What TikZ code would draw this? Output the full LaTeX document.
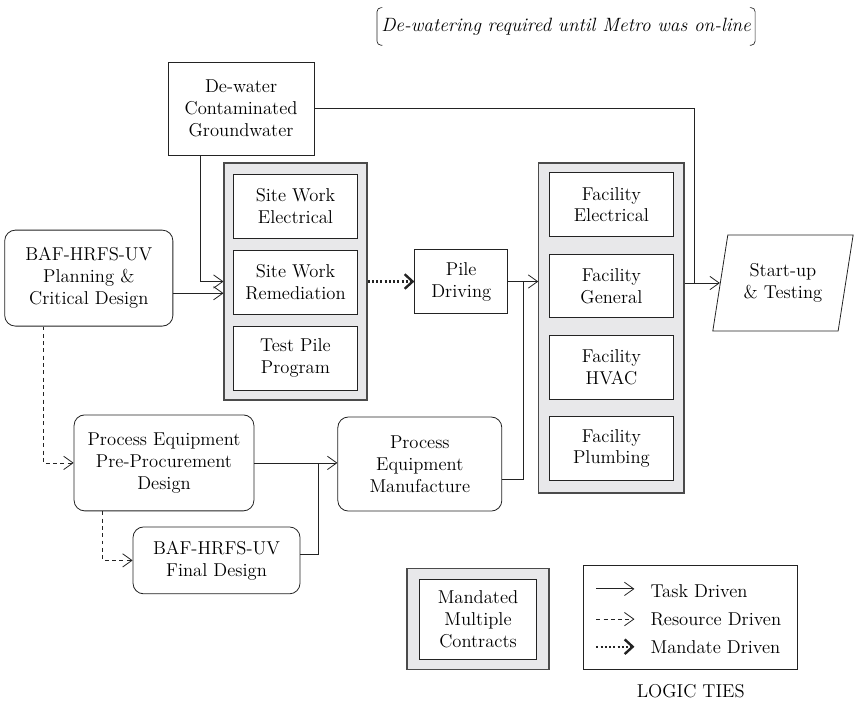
\documentclass[tikz,border=0pt]{standalone}
\usepackage{xcolor}
\usepackage{tikz}
\usetikzlibrary{shapes.geometric, arrows.meta, positioning, calc}
\definecolor{mydark}{RGB}{35,35,35}
\definecolor{mygray}{RGB}{75,75,75}
\definecolor{hdrgray}{RGB}{232,232,234}
\tikzset{
  task/.style={rectangle, draw=mydark, fill=white, align=center,
    font=\fontsize{14}{16.5}\selectfont, line width=0.6pt, inner sep=2pt},
  roundtask/.style={task, rounded corners=8pt},
  subtask/.style={task, minimum width=3.3cm, minimum height=1.69cm},
  contract/.style={rectangle, draw=mygray, fill=hdrgray, line width=0.9pt},
  startbox/.style={trapezium, trapezium left angle=76, trapezium right angle=104,
    trapezium stretches=true, draw=mydark, fill=white, align=center,
    font=\fontsize{14}{16.5}\selectfont, line width=0.6pt,
    minimum width=3.73cm, minimum height=2.54cm},
  legtext/.style={font=\fontsize{14}{16.5}\selectfont, inner sep=0pt},
  arrow/.style={-{Straight Barb[length=7pt,width=10pt]}, line width=0.6pt, color=mydark},
  resarrow/.style={arrow, dash pattern=on 3pt off 2.5pt},
  mandarrow/.style={-{Straight Barb[length=6pt,width=11pt,line width=1.8pt]},
    line width=1.6pt, dash pattern=on 1.6pt off 1.6pt, color=mydark},
  line/.style={line width=0.6pt, color=mydark},
  bracket/.style={line width=0.5pt, color=mydark, rounded corners=3pt}
}

\begin{document}
\begin{tikzpicture}
  \useasboundingbox (0,0) rectangle (22.6,-18.6);

  % Note on top
  \node[font=\fontsize{14.5}{16.5}\selectfont\itshape, minimum height=0.98cm,
    inner xsep=3pt] (note) at (14.98,-0.70) {De-watering required until Metro was on-line};
  \draw[bracket] ([xshift=4pt]note.north west) -- (note.north west)
    -- (note.south west) -- ([xshift=4pt]note.south west);
  \draw[bracket] ([xshift=-4pt]note.north east) -- (note.north east)
    -- (note.south east) -- ([xshift=-4pt]note.south east);

  % Row 1: site work and facility contracts
  \node[task, minimum width=3.86cm, minimum height=2.46cm] (dewater) at (6.38,-2.87)
    {De-water\\Contaminated\\Groundwater};
  \node[roundtask, minimum width=4.45cm, minimum height=2.54cm] (planning) at (2.35,-7.36)
    {BAF-HRFS-UV\\Planning \&\\Critical Design};

  \node[contract, minimum width=3.78cm, minimum height=6.27cm] (swbox) at (7.82,-7.45) {};
  \node[subtask, below=0.3cm of swbox.north] (swelec) {Site Work\\Electrical};
  \node[subtask, below=0.3cm of swelec] (swrem) {Site Work\\Remediation};
  \node[subtask, below=0.3cm of swrem] (testpile) {Test Pile\\Program};

  \node[task, minimum width=2.46cm, minimum height=1.69cm, right=1.24cm of swbox] (pile)
    {Pile\\Driving};

  \node[contract, minimum width=3.84cm, minimum height=8.73cm] (facbox) at (16.18,-8.68) {};
  \node[subtask, below=0.26cm of facbox.north] (facelec) {Facility\\Electrical};
  \node[subtask, below=0.44cm of facelec] (facgen) {Facility\\General};
  \node[subtask, below=0.44cm of facgen] (fachvac) {Facility\\HVAC};
  \node[subtask, below=0.44cm of fachvac] (facplumb) {Facility\\Plumbing};

  \node[startbox] (startup) at (20.72,-7.49) {Start-up\\\& Testing};

  % Row 2: process equipment
  \node[roundtask, minimum width=4.76cm, minimum height=2.54cm] (preproc) at (4.34,-12.25)
    {Process Equipment\\Pre-Procurement\\Design};
  \node[roundtask, minimum width=4.34cm, minimum height=2.49cm] (pem) at (11.11,-12.28)
    {Process\\Equipment\\Manufacture};
  \node[roundtask, minimum width=4.42cm, minimum height=1.77cm] (final) at (5.73,-14.83)
    {BAF-HRFS-UV\\Final Design};

  % Legend
  \node[contract, minimum width=3.76cm, minimum height=2.67cm] (mandbox) at (12.65,-16.39) {};
  \node[task, minimum width=3.1cm, minimum height=2.14cm] (mandtext) at (mandbox)
    {Mandated\\Multiple\\Contracts};
  \node[task, minimum width=5.66cm, minimum height=2.75cm] (legend) at (18.28,-16.35) {};
  \node[legtext, anchor=west] (tasklbl) at ([xshift=1.77cm,yshift=-0.69cm]legend.north west) {Task Driven};
  \node[legtext, anchor=west] (reslbl) at ([xshift=1.77cm,yshift=-1.42cm]legend.north west) {Resource Driven};
  \node[legtext, anchor=west] (mandlbl) at ([xshift=1.77cm,yshift=-2.15cm]legend.north west) {Mandate Driven};
  \draw[arrow] ([xshift=-1.43cm,yshift=2pt]tasklbl.west) -- ([xshift=-0.42cm,yshift=2pt]tasklbl.west);
  \draw[resarrow] ([xshift=-1.43cm]reslbl.west) -- ([xshift=-0.42cm]reslbl.west);
  \draw[mandarrow] ([xshift=-1.43cm]mandlbl.west) -- ([xshift=-0.42cm]mandlbl.west);
  \node[font=\fontsize{14}{16}\selectfont, below=0.25cm of legend] (ties) {LOGIC TIES};

  % Joins
  \coordinate (pfjoin) at ($(pile.east)!0.5!(pile.east -| facbox.west)$);
  \coordinate (ppjoin) at ($(preproc.east)!0.77!(preproc.east -| pem.west)$);
  \coordinate (dwjoin) at ([xshift=0.26cm]facbox.east |- startup.west);

  % Task ties
  \draw[arrow] ([yshift=-0.4cm]planning.east) -- ([yshift=-0.4cm]planning.east -| swbox.west);
  \draw[arrow] ([xshift=0.87cm]dewater.south west) |- (swbox.west);
  \draw[arrow] (pile.east) -- (pile.east -| facbox.west);
  \draw[line] ([yshift=-0.4cm]pem.east) -| (pfjoin);
  \draw[line] (dewater.east) -| (dwjoin);
  \draw[arrow] (facbox.east |- startup.west) -- (startup.west);
  \draw[arrow] (preproc.east) -- (preproc.east -| pem.west);
  \draw[line] ([yshift=0.15cm]final.east) -| (ppjoin);

  % Mandate tie
  \draw[mandarrow] (swbox.east) -- (pile.west);

  % Resource ties
  \draw[resarrow] ([xshift=1.03cm]planning.south west) |- (preproc.west);
  \draw[resarrow] ([xshift=0.77cm]preproc.south west) |- (final.west);
\end{tikzpicture}
\end{document}
